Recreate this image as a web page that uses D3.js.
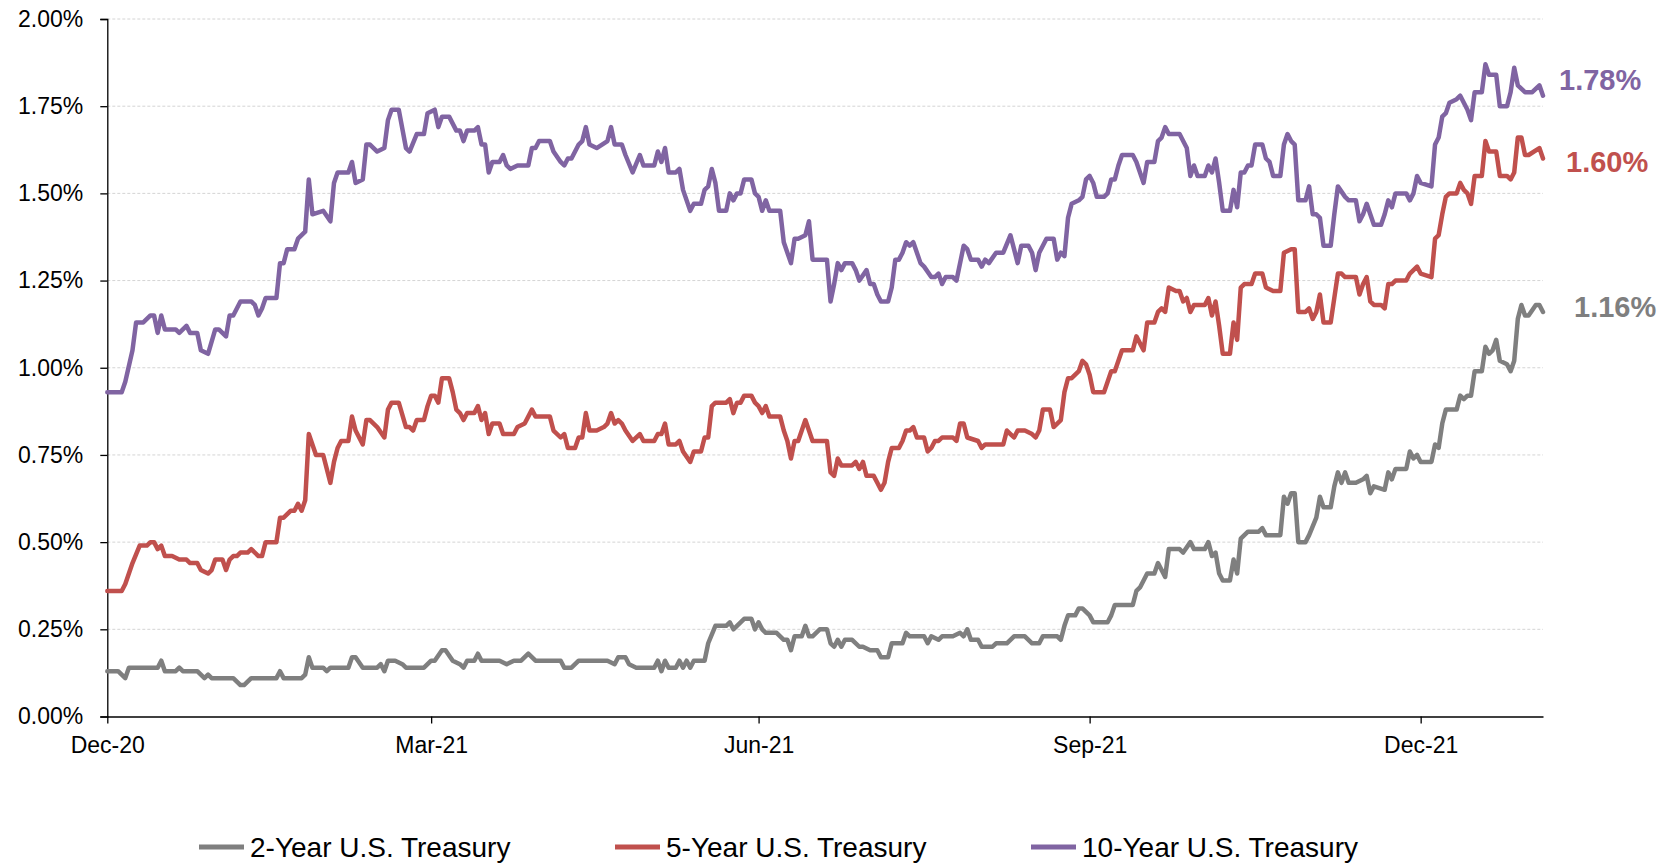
<!DOCTYPE html>
<html>
<head>
<meta charset="utf-8">
<script src="https://cdn.jsdelivr.net/npm/d3@7"></script>
<style>
  html, body { margin: 0; padding: 0; background: #fff; }
  svg { display: block; font-family: "Liberation Sans", Arial, sans-serif; }
</style>
</head>
<body>
<svg id="chart" width="1670" height="863"></svg>
<script>
// Daily U.S. Treasury yields (%), 31 Dec 2020 - 3 Feb 2022
const seriesNames = ["2-Year U.S. Treasury", "5-Year U.S. Treasury", "10-Year U.S. Treasury"];
const seriesColors = ["#7f7f7f", "#c0504d", "#8064a2"];

const twoYear = [
  ["2020-12-31",0.13],["2021-01-03",0.13],["2021-01-05",0.11],["2021-01-06",0.14],["2021-01-14",0.14],["2021-01-15",0.16],
  ["2021-01-16",0.13],["2021-01-19",0.13],["2021-01-20",0.14],["2021-01-21",0.13],["2021-01-25",0.13],["2021-01-27",0.11],
  ["2021-01-28",0.12],["2021-01-29",0.11],["2021-02-04",0.11],["2021-02-06",0.09],["2021-02-07",0.09],["2021-02-09",0.11],
  ["2021-02-16",0.11],["2021-02-17",0.13],["2021-02-18",0.11],["2021-02-23",0.11],["2021-02-24",0.12],["2021-02-25",0.17],
  ["2021-02-26",0.14],["2021-03-01",0.14],["2021-03-02",0.13],["2021-03-03",0.14],["2021-03-08",0.14],["2021-03-09",0.17],
  ["2021-03-10",0.17],["2021-03-12",0.14],["2021-03-16",0.14],["2021-03-17",0.15],["2021-03-18",0.13],["2021-03-19",0.16],
  ["2021-03-21",0.16],["2021-03-23",0.15],["2021-03-24",0.14],["2021-03-29",0.14],["2021-03-31",0.16],["2021-04-01",0.16],
  ["2021-04-03",0.19],["2021-04-04",0.19],["2021-04-06",0.16],["2021-04-08",0.15],["2021-04-09",0.14],["2021-04-10",0.16],
  ["2021-04-12",0.16],["2021-04-13",0.18],["2021-04-14",0.16],["2021-04-19",0.16],["2021-04-21",0.15],["2021-04-23",0.16],
  ["2021-04-25",0.16],["2021-04-27",0.18],["2021-04-28",0.17],["2021-04-29",0.16],["2021-05-06",0.16],["2021-05-07",0.14],
  ["2021-05-09",0.14],["2021-05-11",0.16],["2021-05-19",0.16],["2021-05-21",0.15],["2021-05-22",0.17],["2021-05-24",0.17],
  ["2021-05-25",0.15],["2021-05-27",0.14],["2021-06-01",0.14],["2021-06-02",0.16],["2021-06-03",0.13],["2021-06-04",0.16],
  ["2021-06-05",0.14],["2021-06-07",0.14],["2021-06-08",0.16],["2021-06-09",0.14],["2021-06-10",0.16],["2021-06-11",0.14],
  ["2021-06-12",0.16],["2021-06-15",0.16],["2021-06-16",0.21],["2021-06-18",0.26],["2021-06-21",0.26],["2021-06-22",0.27],
  ["2021-06-23",0.25],["2021-06-24",0.26],["2021-06-25",0.27],["2021-06-26",0.28],["2021-06-28",0.28],["2021-06-29",0.25],
  ["2021-06-30",0.27],["2021-07-01",0.25],["2021-07-02",0.24],["2021-07-05",0.24],["2021-07-07",0.22],["2021-07-08",0.22],
  ["2021-07-09",0.19],["2021-07-10",0.23],["2021-07-12",0.23],["2021-07-13",0.26],["2021-07-14",0.23],["2021-07-15",0.23],
  ["2021-07-17",0.25],["2021-07-19",0.25],["2021-07-20",0.21],["2021-07-21",0.20],["2021-07-22",0.22],["2021-07-23",0.20],
  ["2021-07-24",0.22],["2021-07-26",0.22],["2021-07-28",0.20],["2021-07-29",0.20],["2021-07-31",0.19],["2021-08-02",0.19],
  ["2021-08-03",0.17],["2021-08-05",0.17],["2021-08-06",0.21],["2021-08-09",0.21],["2021-08-10",0.24],["2021-08-11",0.23],
  ["2021-08-15",0.23],["2021-08-16",0.21],["2021-08-17",0.23],["2021-08-19",0.22],["2021-08-20",0.23],["2021-08-23",0.23],
  ["2021-08-25",0.24],["2021-08-26",0.23],["2021-08-27",0.25],["2021-08-28",0.22],["2021-08-30",0.22],["2021-08-31",0.20],
  ["2021-09-03",0.20],["2021-09-04",0.21],["2021-09-07",0.21],["2021-09-09",0.23],["2021-09-12",0.23],["2021-09-14",0.21],
  ["2021-09-16",0.21],["2021-09-17",0.23],["2021-09-21",0.23],["2021-09-22",0.22],["2021-09-23",0.26],["2021-09-24",0.29],
  ["2021-09-26",0.29],["2021-09-27",0.31],["2021-09-28",0.31],["2021-09-30",0.29],["2021-10-01",0.27],["2021-10-05",0.27],
  ["2021-10-06",0.29],["2021-10-07",0.32],["2021-10-12",0.32],["2021-10-13",0.36],["2021-10-14",0.37],["2021-10-16",0.41],
  ["2021-10-18",0.41],["2021-10-19",0.44],["2021-10-20",0.42],["2021-10-21",0.40],["2021-10-22",0.48],["2021-10-25",0.48],
  ["2021-10-26",0.47],["2021-10-28",0.50],["2021-10-29",0.48],["2021-11-01",0.48],["2021-11-02",0.50],["2021-11-03",0.46],
  ["2021-11-04",0.47],["2021-11-05",0.41],["2021-11-06",0.39],["2021-11-08",0.39],["2021-11-09",0.45],["2021-11-10",0.41],
  ["2021-11-11",0.51],["2021-11-12",0.52],["2021-11-13",0.53],["2021-11-16",0.53],["2021-11-17",0.54],["2021-11-18",0.52],
  ["2021-11-22",0.52],["2021-11-23",0.63],["2021-11-24",0.61],["2021-11-25",0.64],["2021-11-26",0.64],["2021-11-27",0.50],
  ["2021-11-29",0.50],["2021-11-30",0.52],["2021-12-02",0.57],["2021-12-03",0.63],["2021-12-04",0.60],["2021-12-06",0.60],
  ["2021-12-07",0.66],["2021-12-08",0.70],["2021-12-09",0.67],["2021-12-10",0.70],["2021-12-11",0.67],["2021-12-13",0.67],
  ["2021-12-15",0.68],["2021-12-16",0.69],["2021-12-17",0.64],["2021-12-18",0.66],["2021-12-21",0.65],["2021-12-22",0.70],
  ["2021-12-23",0.68],["2021-12-24",0.71],["2021-12-27",0.71],["2021-12-28",0.76],["2021-12-29",0.74],["2021-12-30",0.75],
  ["2021-12-31",0.73],["2022-01-03",0.73],["2022-01-04",0.78],["2022-01-05",0.77],["2022-01-06",0.84],["2022-01-07",0.88],
  ["2022-01-10",0.88],["2022-01-11",0.92],["2022-01-12",0.91],["2022-01-13",0.92],["2022-01-14",0.92],["2022-01-15",0.99],
  ["2022-01-17",0.99],["2022-01-18",1.06],["2022-01-19",1.04],["2022-01-20",1.05],["2022-01-21",1.08],["2022-01-22",1.02],
  ["2022-01-24",1.01],["2022-01-25",0.99],["2022-01-26",1.02],["2022-01-27",1.14],["2022-01-28",1.18],["2022-01-29",1.15],
  ["2022-01-30",1.15],["2022-02-01",1.18],["2022-02-02",1.18],["2022-02-03",1.16]
];

const fiveYear = [
  ["2020-12-31",0.36],["2021-01-04",0.36],["2021-01-05",0.38],["2021-01-07",0.44],["2021-01-09",0.49],["2021-01-11",0.49],
  ["2021-01-12",0.50],["2021-01-13",0.50],["2021-01-14",0.48],["2021-01-15",0.49],["2021-01-16",0.46],["2021-01-18",0.46],
  ["2021-01-20",0.45],["2021-01-22",0.45],["2021-01-23",0.44],["2021-01-25",0.44],["2021-01-26",0.42],["2021-01-28",0.41],
  ["2021-01-29",0.42],["2021-01-30",0.45],["2021-02-01",0.45],["2021-02-02",0.42],["2021-02-03",0.45],["2021-02-04",0.46],
  ["2021-02-05",0.46],["2021-02-06",0.47],["2021-02-08",0.47],["2021-02-09",0.48],["2021-02-11",0.46],["2021-02-12",0.46],
  ["2021-02-13",0.50],["2021-02-16",0.50],["2021-02-17",0.57],["2021-02-18",0.57],["2021-02-20",0.59],["2021-02-21",0.59],
  ["2021-02-22",0.61],["2021-02-23",0.59],["2021-02-24",0.62],["2021-02-25",0.81],["2021-02-27",0.75],["2021-03-01",0.75],
  ["2021-03-03",0.67],["2021-03-04",0.73],["2021-03-05",0.77],["2021-03-06",0.79],["2021-03-08",0.79],["2021-03-09",0.86],
  ["2021-03-10",0.82],["2021-03-12",0.78],["2021-03-13",0.85],["2021-03-14",0.85],["2021-03-16",0.83],["2021-03-18",0.80],
  ["2021-03-19",0.88],["2021-03-20",0.90],["2021-03-22",0.90],["2021-03-24",0.83],["2021-03-25",0.83],["2021-03-26",0.82],
  ["2021-03-27",0.85],["2021-03-29",0.85],["2021-03-30",0.89],["2021-03-31",0.92],["2021-04-01",0.92],["2021-04-02",0.90],
  ["2021-04-03",0.97],["2021-04-05",0.97],["2021-04-06",0.93],["2021-04-07",0.88],["2021-04-08",0.87],["2021-04-09",0.85],
  ["2021-04-10",0.87],["2021-04-12",0.87],["2021-04-13",0.89],["2021-04-14",0.85],["2021-04-15",0.87],["2021-04-16",0.81],
  ["2021-04-17",0.84],["2021-04-19",0.84],["2021-04-20",0.81],["2021-04-23",0.81],["2021-04-24",0.83],["2021-04-26",0.84],
  ["2021-04-28",0.88],["2021-04-29",0.86],["2021-05-03",0.86],["2021-05-04",0.82],["2021-05-06",0.80],["2021-05-07",0.81],
  ["2021-05-08",0.77],["2021-05-10",0.77],["2021-05-11",0.80],["2021-05-12",0.80],["2021-05-13",0.87],["2021-05-14",0.82],
  ["2021-05-16",0.82],["2021-05-18",0.83],["2021-05-19",0.84],["2021-05-20",0.87],["2021-05-21",0.84],["2021-05-22",0.85],
  ["2021-05-23",0.84],["2021-05-24",0.82],["2021-05-26",0.79],["2021-05-28",0.81],["2021-05-29",0.79],["2021-06-01",0.79],
  ["2021-06-02",0.81],["2021-06-03",0.81],["2021-06-04",0.84],["2021-06-05",0.78],["2021-06-07",0.78],["2021-06-08",0.79],
  ["2021-06-09",0.76],["2021-06-11",0.73],["2021-06-12",0.76],["2021-06-14",0.76],["2021-06-15",0.80],["2021-06-16",0.80],
  ["2021-06-17",0.89],["2021-06-18",0.90],["2021-06-21",0.90],["2021-06-22",0.91],["2021-06-23",0.87],["2021-06-24",0.90],
  ["2021-06-25",0.90],["2021-06-26",0.92],["2021-06-28",0.92],["2021-06-29",0.90],["2021-06-30",0.89],["2021-07-01",0.87],
  ["2021-07-02",0.89],["2021-07-03",0.86],["2021-07-06",0.86],["2021-07-07",0.82],["2021-07-08",0.79],["2021-07-09",0.74],
  ["2021-07-10",0.79],["2021-07-11",0.79],["2021-07-12",0.82],["2021-07-13",0.85],["2021-07-14",0.82],["2021-07-15",0.79],
  ["2021-07-17",0.79],["2021-07-19",0.79],["2021-07-20",0.70],["2021-07-21",0.69],["2021-07-22",0.74],["2021-07-23",0.72],
  ["2021-07-24",0.72],["2021-07-26",0.72],["2021-07-27",0.73],["2021-07-28",0.71],["2021-07-29",0.73],["2021-07-30",0.69],
  ["2021-08-01",0.69],["2021-08-02",0.67],["2021-08-03",0.65],["2021-08-04",0.67],["2021-08-05",0.73],["2021-08-06",0.77],
  ["2021-08-08",0.77],["2021-08-09",0.79],["2021-08-10",0.82],["2021-08-11",0.82],["2021-08-12",0.83],["2021-08-13",0.80],
  ["2021-08-15",0.80],["2021-08-16",0.76],["2021-08-17",0.77],["2021-08-18",0.79],["2021-08-19",0.79],["2021-08-20",0.80],
  ["2021-08-23",0.80],["2021-08-24",0.79],["2021-08-25",0.84],["2021-08-26",0.84],["2021-08-27",0.80],["2021-08-30",0.79],
  ["2021-08-31",0.77],["2021-09-01",0.78],["2021-09-06",0.78],["2021-09-07",0.82],["2021-09-08",0.81],["2021-09-09",0.80],
  ["2021-09-10",0.82],["2021-09-12",0.82],["2021-09-14",0.81],["2021-09-15",0.80],["2021-09-16",0.82],["2021-09-17",0.88],
  ["2021-09-19",0.88],["2021-09-20",0.83],["2021-09-22",0.85],["2021-09-23",0.93],["2021-09-24",0.97],["2021-09-25",0.97],
  ["2021-09-27",0.99],["2021-09-28",1.02],["2021-09-29",1.01],["2021-09-30",0.98],["2021-10-01",0.93],["2021-10-04",0.93],
  ["2021-10-05",0.96],["2021-10-06",0.99],["2021-10-07",0.99],["2021-10-08",1.02],["2021-10-09",1.05],["2021-10-12",1.05],
  ["2021-10-13",1.09],["2021-10-15",1.05],["2021-10-16",1.13],["2021-10-18",1.13],["2021-10-19",1.16],["2021-10-20",1.17],
  ["2021-10-21",1.16],["2021-10-22",1.23],["2021-10-24",1.22],["2021-10-25",1.22],["2021-10-26",1.19],["2021-10-27",1.20],
  ["2021-10-28",1.16],["2021-10-29",1.18],["2021-11-01",1.18],["2021-11-02",1.20],["2021-11-03",1.15],["2021-11-04",1.19],
  ["2021-11-05",1.12],["2021-11-06",1.04],["2021-11-08",1.04],["2021-11-09",1.13],["2021-11-10",1.08],["2021-11-11",1.23],
  ["2021-11-12",1.24],["2021-11-14",1.24],["2021-11-15",1.27],["2021-11-17",1.27],["2021-11-18",1.23],["2021-11-20",1.22],
  ["2021-11-22",1.22],["2021-11-23",1.33],["2021-11-25",1.34],["2021-11-26",1.34],["2021-11-27",1.16],["2021-11-29",1.16],
  ["2021-11-30",1.17],["2021-12-01",1.14],["2021-12-02",1.16],["2021-12-03",1.21],["2021-12-04",1.13],["2021-12-06",1.13],
  ["2021-12-07",1.20],["2021-12-08",1.27],["2021-12-09",1.27],["2021-12-10",1.26],["2021-12-13",1.26],["2021-12-14",1.21],
  ["2021-12-15",1.24],["2021-12-16",1.26],["2021-12-17",1.19],["2021-12-18",1.18],["2021-12-20",1.18],["2021-12-21",1.17],
  ["2021-12-22",1.24],["2021-12-23",1.24],["2021-12-24",1.25],["2021-12-27",1.25],["2021-12-28",1.27],["2021-12-30",1.29],
  ["2021-12-31",1.27],["2022-01-03",1.26],["2022-01-04",1.37],["2022-01-05",1.38],["2022-01-06",1.44],["2022-01-07",1.49],
  ["2022-01-08",1.50],["2022-01-10",1.50],["2022-01-11",1.53],["2022-01-12",1.51],["2022-01-13",1.50],["2022-01-14",1.47],
  ["2022-01-15",1.55],["2022-01-17",1.55],["2022-01-18",1.65],["2022-01-19",1.62],["2022-01-21",1.62],["2022-01-22",1.55],
  ["2022-01-24",1.55],["2022-01-25",1.54],["2022-01-26",1.56],["2022-01-27",1.66],["2022-01-28",1.66],["2022-01-29",1.61],
  ["2022-01-30",1.61],["2022-02-02",1.63],["2022-02-03",1.60]
];

const tenYear = [
  ["2020-12-31",0.93],["2021-01-04",0.93],["2021-01-05",0.96],["2021-01-07",1.05],["2021-01-08",1.13],["2021-01-10",1.13],
  ["2021-01-12",1.15],["2021-01-13",1.15],["2021-01-14",1.10],["2021-01-15",1.15],["2021-01-16",1.11],["2021-01-19",1.11],
  ["2021-01-20",1.10],["2021-01-22",1.12],["2021-01-23",1.10],["2021-01-25",1.10],["2021-01-26",1.05],["2021-01-28",1.04],
  ["2021-01-30",1.11],["2021-01-31",1.11],["2021-02-02",1.09],["2021-02-03",1.15],["2021-02-04",1.15],["2021-02-06",1.19],
  ["2021-02-09",1.19],["2021-02-10",1.18],["2021-02-11",1.15],["2021-02-12",1.17],["2021-02-13",1.20],["2021-02-16",1.20],
  ["2021-02-17",1.30],["2021-02-18",1.30],["2021-02-19",1.34],["2021-02-21",1.34],["2021-02-22",1.37],["2021-02-23",1.38],
  ["2021-02-24",1.39],["2021-02-25",1.54],["2021-02-26",1.44],["2021-03-01",1.45],["2021-03-03",1.42],["2021-03-04",1.53],
  ["2021-03-05",1.56],["2021-03-08",1.56],["2021-03-09",1.59],["2021-03-10",1.53],["2021-03-12",1.54],["2021-03-13",1.64],
  ["2021-03-14",1.64],["2021-03-16",1.62],["2021-03-18",1.63],["2021-03-19",1.71],["2021-03-20",1.74],["2021-03-22",1.74],
  ["2021-03-24",1.63],["2021-03-25",1.62],["2021-03-27",1.67],["2021-03-29",1.67],["2021-03-30",1.73],["2021-04-01",1.74],
  ["2021-04-02",1.69],["2021-04-03",1.72],["2021-04-05",1.72],["2021-04-07",1.68],["2021-04-08",1.68],["2021-04-09",1.65],
  ["2021-04-10",1.68],["2021-04-12",1.68],["2021-04-13",1.69],["2021-04-14",1.64],["2021-04-15",1.64],["2021-04-16",1.56],
  ["2021-04-17",1.59],["2021-04-19",1.59],["2021-04-20",1.61],["2021-04-21",1.58],["2021-04-22",1.57],["2021-04-24",1.58],
  ["2021-04-27",1.58],["2021-04-28",1.63],["2021-04-29",1.63],["2021-04-30",1.65],["2021-05-03",1.65],["2021-05-04",1.62],
  ["2021-05-06",1.59],["2021-05-07",1.58],["2021-05-08",1.60],["2021-05-09",1.60],["2021-05-11",1.64],["2021-05-12",1.65],
  ["2021-05-13",1.69],["2021-05-14",1.64],["2021-05-16",1.63],["2021-05-19",1.65],["2021-05-20",1.69],["2021-05-21",1.64],
  ["2021-05-23",1.64],["2021-05-24",1.61],["2021-05-26",1.56],["2021-05-28",1.61],["2021-05-29",1.58],["2021-06-01",1.58],
  ["2021-06-02",1.62],["2021-06-03",1.59],["2021-06-04",1.63],["2021-06-05",1.56],["2021-06-07",1.56],["2021-06-08",1.57],
  ["2021-06-09",1.51],["2021-06-11",1.45],["2021-06-12",1.47],["2021-06-14",1.47],["2021-06-15",1.51],["2021-06-16",1.52],
  ["2021-06-17",1.57],["2021-06-18",1.53],["2021-06-19",1.45],["2021-06-21",1.45],["2021-06-22",1.50],["2021-06-23",1.48],
  ["2021-06-24",1.50],["2021-06-25",1.50],["2021-06-26",1.54],["2021-06-28",1.54],["2021-06-29",1.50],["2021-06-30",1.49],
  ["2021-07-01",1.45],["2021-07-02",1.48],["2021-07-03",1.45],["2021-07-06",1.45],["2021-07-07",1.36],["2021-07-09",1.30],
  ["2021-07-10",1.37],["2021-07-11",1.37],["2021-07-13",1.38],["2021-07-14",1.42],["2021-07-15",1.31],["2021-07-19",1.31],
  ["2021-07-20",1.19],["2021-07-21",1.24],["2021-07-22",1.30],["2021-07-23",1.28],["2021-07-24",1.30],["2021-07-26",1.30],
  ["2021-07-27",1.28],["2021-07-28",1.25],["2021-07-30",1.28],["2021-07-31",1.24],["2021-08-01",1.24],["2021-08-02",1.21],
  ["2021-08-03",1.19],["2021-08-05",1.19],["2021-08-06",1.23],["2021-08-07",1.31],["2021-08-08",1.31],["2021-08-09",1.33],
  ["2021-08-10",1.36],["2021-08-11",1.35],["2021-08-12",1.36],["2021-08-14",1.30],["2021-08-15",1.29],["2021-08-17",1.26],
  ["2021-08-18",1.26],["2021-08-19",1.27],["2021-08-20",1.24],["2021-08-21",1.26],["2021-08-23",1.26],["2021-08-24",1.25],
  ["2021-08-26",1.35],["2021-08-27",1.34],["2021-08-28",1.31],["2021-08-30",1.31],["2021-08-31",1.29],["2021-09-01",1.31],
  ["2021-09-02",1.30],["2021-09-04",1.33],["2021-09-06",1.33],["2021-09-08",1.38],["2021-09-09",1.34],["2021-09-10",1.30],
  ["2021-09-11",1.35],["2021-09-13",1.35],["2021-09-14",1.33],["2021-09-15",1.28],["2021-09-16",1.33],["2021-09-18",1.37],
  ["2021-09-20",1.37],["2021-09-21",1.31],["2021-09-22",1.33],["2021-09-23",1.32],["2021-09-24",1.43],["2021-09-25",1.47],
  ["2021-09-27",1.48],["2021-09-28",1.49],["2021-09-29",1.54],["2021-09-30",1.55],["2021-10-01",1.53],["2021-10-02",1.49],
  ["2021-10-04",1.49],["2021-10-05",1.50],["2021-10-06",1.54],["2021-10-07",1.54],["2021-10-08",1.58],["2021-10-09",1.61],
  ["2021-10-12",1.61],["2021-10-13",1.59],["2021-10-15",1.53],["2021-10-16",1.59],["2021-10-18",1.59],["2021-10-19",1.65],
  ["2021-10-20",1.66],["2021-10-21",1.69],["2021-10-22",1.67],["2021-10-25",1.67],["2021-10-26",1.65],["2021-10-27",1.63],
  ["2021-10-28",1.55],["2021-10-29",1.58],["2021-10-30",1.55],["2021-11-01",1.55],["2021-11-02",1.58],["2021-11-03",1.56],
  ["2021-11-04",1.60],["2021-11-05",1.53],["2021-11-06",1.45],["2021-11-08",1.45],["2021-11-09",1.51],["2021-11-10",1.46],
  ["2021-11-11",1.56],["2021-11-12",1.56],["2021-11-13",1.58],["2021-11-14",1.58],["2021-11-15",1.64],["2021-11-17",1.64],
  ["2021-11-18",1.60],["2021-11-19",1.59],["2021-11-20",1.55],["2021-11-22",1.55],["2021-11-23",1.64],["2021-11-24",1.67],
  ["2021-11-25",1.65],["2021-11-26",1.64],["2021-11-27",1.48],["2021-11-29",1.48],["2021-11-30",1.52],["2021-12-01",1.44],
  ["2021-12-02",1.44],["2021-12-03",1.43],["2021-12-04",1.35],["2021-12-06",1.35],["2021-12-07",1.44],["2021-12-08",1.52],
  ["2021-12-10",1.49],["2021-12-11",1.48],["2021-12-13",1.48],["2021-12-14",1.42],["2021-12-15",1.44],["2021-12-16",1.47],
  ["2021-12-17",1.44],["2021-12-18",1.41],["2021-12-20",1.41],["2021-12-21",1.44],["2021-12-22",1.48],["2021-12-23",1.46],
  ["2021-12-24",1.50],["2021-12-27",1.50],["2021-12-28",1.48],["2021-12-29",1.50],["2021-12-30",1.55],["2021-12-31",1.53],
  ["2022-01-03",1.52],["2022-01-04",1.64],["2022-01-05",1.66],["2022-01-06",1.72],["2022-01-07",1.73],["2022-01-08",1.76],
  ["2022-01-10",1.77],["2022-01-11",1.78],["2022-01-12",1.76],["2022-01-13",1.74],["2022-01-14",1.71],["2022-01-15",1.79],
  ["2022-01-17",1.79],["2022-01-18",1.87],["2022-01-19",1.84],["2022-01-21",1.84],["2022-01-22",1.75],["2022-01-24",1.75],
  ["2022-01-25",1.79],["2022-01-26",1.86],["2022-01-27",1.81],["2022-01-29",1.79],["2022-01-31",1.79],["2022-02-02",1.81],
  ["2022-02-03",1.78]
];

const yTicks = [0, 0.25, 0.5, 0.75, 1.0, 1.25, 1.5, 1.75, 2.0];
const xTickDates = ["2020-12-31", "2021-03-31", "2021-06-30", "2021-09-30", "2021-12-31"];
const xTickLabels = ["Dec-20", "Mar-21", "Jun-21", "Sep-21", "Dec-21"];

// ---- layout ----
const plot = { left: 107.3, right: 1543, top: 19, bottom: 716.5 };
const parse = d3.timeParse("%Y-%m-%d");
const allSeries = [twoYear, fiveYear, tenYear].map(s => s.map(([d, v]) => ({ date: parse(d), value: v })));

const x = d3.scaleTime()
  .domain([parse("2020-12-31"), parse("2022-02-03")])
  .range([plot.left, plot.right]);
const y = d3.scaleLinear().domain([0, 2]).range([plot.bottom, plot.top]);

const svg = d3.select("#chart");

// horizontal gridlines
svg.append("g")
  .selectAll("line")
  .data(yTicks.filter(t => t > 0))
  .join("line")
  .attr("x1", plot.left).attr("x2", plot.right)
  .attr("y1", d => y(d)).attr("y2", d => y(d))
  .attr("stroke", "#d4d4d4")
  .attr("stroke-width", 1)
  .attr("stroke-dasharray", "3,2");

// y axis
const yAxis = svg.append("g")
  .attr("transform", `translate(${plot.left},0)`)
  .call(d3.axisLeft(y).tickValues(yTicks).tickSize(7).tickPadding(17)
    .tickFormat(d => d.toFixed(2) + "%"));
yAxis.select(".domain").attr("stroke", "#000").attr("stroke-width", 1.3);
yAxis.selectAll(".tick line").attr("stroke", "#000").attr("stroke-width", 1.3);
yAxis.selectAll(".tick text")
  .attr("font-size", 23).attr("fill", "#000")
  .attr("font-family", "Liberation Sans, Arial, sans-serif");

// x axis
const xAxis = svg.append("g")
  .attr("transform", `translate(0,${plot.bottom})`)
  .call(d3.axisBottom(x).tickValues(xTickDates.map(parse)).tickSize(7).tickPadding(13)
    .tickSizeOuter(0)
    .tickFormat((d, i) => xTickLabels[i]));
xAxis.select(".domain").attr("stroke", "#000").attr("stroke-width", 1.3);
xAxis.selectAll(".tick line").attr("stroke", "#000").attr("stroke-width", 1.3);
xAxis.selectAll(".tick text")
  .attr("font-size", 23).attr("fill", "#000")
  .attr("font-family", "Liberation Sans, Arial, sans-serif");

// series lines
const line = d3.line().x(d => x(d.date)).y(d => y(d.value));
svg.append("g")
  .selectAll("path")
  .data(allSeries)
  .join("path")
  .attr("d", line)
  .attr("fill", "none")
  .attr("stroke", (d, i) => seriesColors[i])
  .attr("stroke-width", 4.5)
  .attr("stroke-linejoin", "round")
  .attr("stroke-linecap", "round");

// end-of-period value labels
const labelOffsets = [{ dx: 31, dy: -5 }, { dx: 23, dy: 3 }, { dx: 16, dy: -16 }];
svg.append("g")
  .selectAll("text")
  .data(allSeries)
  .join("text")
  .attr("x", (d, i) => x(d[d.length - 1].date) + labelOffsets[i].dx)
  .attr("y", (d, i) => y(d[d.length - 1].value) + labelOffsets[i].dy)
  .attr("dominant-baseline", "central")
  .attr("font-size", 29)
  .attr("font-weight", "bold")
  .attr("fill", (d, i) => seriesColors[i])
  .text(d => d[d.length - 1].value.toFixed(2) + "%");

// legend
const legendX = [199, 615, 1031];
const legendY = 847;
const legend = svg.append("g")
  .selectAll("g")
  .data(seriesNames)
  .join("g")
  .attr("transform", (d, i) => `translate(${legendX[i]},${legendY})`);
legend.append("line")
  .attr("x1", 0).attr("x2", 45).attr("y1", 0).attr("y2", 0)
  .attr("stroke", (d, i) => seriesColors[i])
  .attr("stroke-width", 5);
legend.append("text")
  .attr("x", 51).attr("y", 0)
  .attr("dominant-baseline", "central")
  .attr("font-size", 28)
  .attr("fill", "#000")
  .text(d => d);
</script>
</body>
</html>
